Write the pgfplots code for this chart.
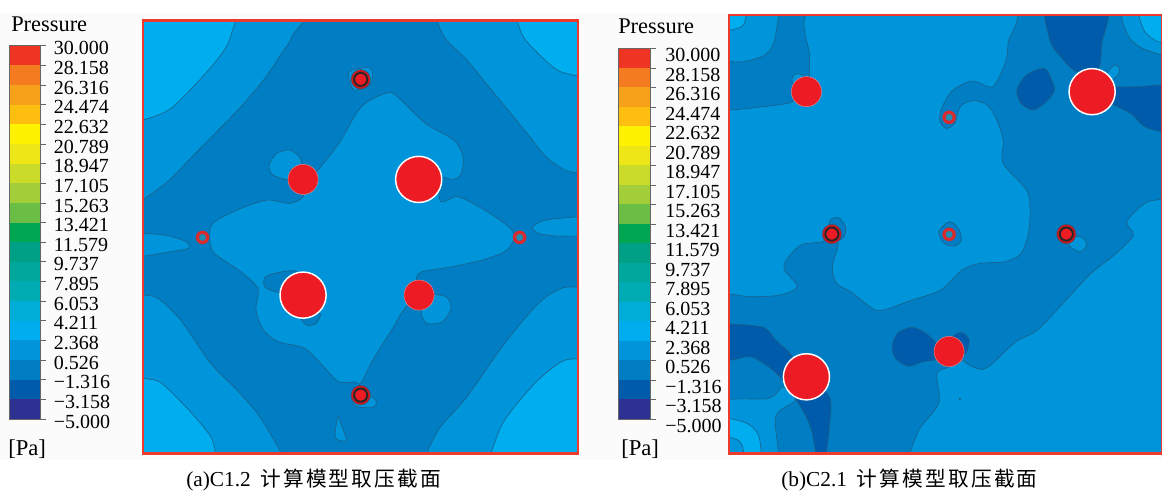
\documentclass[border=0pt]{standalone}
\usepackage{fontspec}
\setmainfont{Liberation Serif}
\newfontfamily\cjk[LetterSpace=11]{Noto Sans CJK SC}
\usepackage{pgfplots}
\pgfplotsset{compat=1.18}
\definecolor{Cl}{HTML}{00ADEF}
\definecolor{Cm}{HTML}{0095DA}
\definecolor{Cd}{HTML}{007DC3}
\definecolor{Cx}{HTML}{005BAA}
\definecolor{lin}{HTML}{1D5F86}
\definecolor{rd}{HTML}{ED1C24}
\definecolor{frm}{HTML}{EE3A2A}
\definecolor{tin}{HTML}{1E8FB4}
\definecolor{tor}{HTML}{D92A2E}
\tikzset{
  ct/.style={fill=#1,draw=lin,line width=.45pt,smooth cycle,tension=.5,mark=none},
}
\pgfplotsset{
  map/.style={scale only axis,anchor=south west,y dir=reverse,axis on top,
    xtick=\empty,ytick=\empty,clip=true,
    axis line style={frm,line width=1.9pt},
    axis background/.style={fill=Cd}},
  bigc/.style={only marks,mark=*,mark size=17.3pt,mark options={fill=rd,draw=white,line width=1.1pt}},
  medc/.style={only marks,mark=*,mark size=11.3pt,mark options={fill=rd,draw=white!50!rd,line width=.3pt}},
  ringo/.style={only marks,mark=*,mark size=7.3pt,mark options={fill=rd!85!black,draw=lin,line width=.3pt}},
  ringi/.style={only marks,mark=*,mark size=4.9pt,mark options={fill=rd,draw=black!85,line width=1.4pt}},
  tinyo/.style={only marks,mark=*,mark size=5pt,mark options={fill=tor,draw=tor,line width=.1pt}},
  tinyi/.style={only marks,mark=*,mark size=2.5pt,mark options={fill=tin,draw=tin,line width=.1pt}},
  cbar/.style={scale only axis,anchor=south west,xmin=0,xmax=1,ymin=-5,ymax=30,
    xtick=\empty,ytick pos=right,
    ytick={-5,-3.158,-1.316,0.526,2.368,4.211,6.053,7.895,9.737,11.579,13.421,15.263,17.105,18.947,20.789,22.632,24.474,26.316,28.158,30},
    yticklabels={−5.000,−3.158,−1.316,0.526,2.368,4.211,6.053,7.895,9.737,11.579,13.421,15.263,17.105,18.947,20.789,22.632,24.474,26.316,28.158,30.000},
    tick align=outside,major tick length=4.2pt,
    tick style={gray!80!black,line width=.5pt},
    axis line style={gray!80!black,line width=.7pt},
    axis on top,
    yticklabel style={font=\fontsize{15}{15}\selectfont,anchor=west,inner sep=0pt,xshift=6pt}},
}
\newcommand\bands{
\addplot[fill={rgb,255:red,238;green,53;blue,36},draw=none] coordinates {(0,28.158)(1,28.158)(1,30)(0,30)} --cycle;
\addplot[fill={rgb,255:red,244;green,123;blue,32},draw=none] coordinates {(0,26.316)(1,26.316)(1,28.158)(0,28.158)} --cycle;
\addplot[fill={rgb,255:red,247;green,161;blue,26},draw=none] coordinates {(0,24.474)(1,24.474)(1,26.316)(0,26.316)} --cycle;
\addplot[fill={rgb,255:red,253;green,190;blue,16},draw=none] coordinates {(0,22.632)(1,22.632)(1,24.474)(0,24.474)} --cycle;
\addplot[fill={rgb,255:red,255;green,242;blue,0},draw=none] coordinates {(0,20.789)(1,20.789)(1,22.632)(0,22.632)} --cycle;
\addplot[fill={rgb,255:red,238;green,230;blue,22},draw=none] coordinates {(0,18.947)(1,18.947)(1,20.789)(0,20.789)} --cycle;
\addplot[fill={rgb,255:red,203;green,219;blue,42},draw=none] coordinates {(0,17.105)(1,17.105)(1,18.947)(0,18.947)} --cycle;
\addplot[fill={rgb,255:red,163;green,205;blue,57},draw=none] coordinates {(0,15.263)(1,15.263)(1,17.105)(0,17.105)} --cycle;
\addplot[fill={rgb,255:red,106;green,189;blue,69},draw=none] coordinates {(0,13.421)(1,13.421)(1,15.263)(0,15.263)} --cycle;
\addplot[fill={rgb,255:red,0;green,166;blue,81},draw=none] coordinates {(0,11.579)(1,11.579)(1,13.421)(0,13.421)} --cycle;
\addplot[fill={rgb,255:red,0;green,160;blue,135},draw=none] coordinates {(0,9.737)(1,9.737)(1,11.579)(0,11.579)} --cycle;
\addplot[fill={rgb,255:red,0;green,167;blue,157},draw=none] coordinates {(0,7.895)(1,7.895)(1,9.737)(0,9.737)} --cycle;
\addplot[fill={rgb,255:red,0;green,172;blue,180},draw=none] coordinates {(0,6.053)(1,6.053)(1,7.895)(0,7.895)} --cycle;
\addplot[fill={rgb,255:red,0;green,173;blue,215},draw=none] coordinates {(0,4.211)(1,4.211)(1,6.053)(0,6.053)} --cycle;
\addplot[fill=Cl,draw=none] coordinates {(0,2.368)(1,2.368)(1,4.211)(0,4.211)} --cycle;
\addplot[fill=Cm,draw=none] coordinates {(0,0.526)(1,0.526)(1,2.368)(0,2.368)} --cycle;
\addplot[fill=Cd,draw=none] coordinates {(0,-1.316)(1,-1.316)(1,0.526)(0,0.526)} --cycle;
\addplot[fill=Cx,draw=none] coordinates {(0,-3.158)(1,-3.158)(1,-1.316)(0,-1.316)} --cycle;
\addplot[fill={rgb,255:red,46;green,49;blue,146},draw=none] coordinates {(0,-5)(1,-5)(1,-3.158)(0,-3.158)} --cycle;
}
\begin{document}
\begin{tikzpicture}
\useasboundingbox (0,0) rectangle (871.5pt,369pt);
% text layer in pixel coordinates
\begin{axis}[scale only axis,at={(0pt,0pt)},anchor=south west,width=871.5pt,height=369pt,
  xmin=0,xmax=1162,ymin=0,ymax=492,y dir=reverse,hide axis,clip=true]
\addplot[fill=black!1.5,draw=none] coordinates {(0,13)(1162,13)(1162,460)(0,460)} --cycle;
\node[anchor=west,inner sep=0pt,font=\fontsize{16.8}{18}\selectfont] at (axis cs:11,24) {Pressure};
\node[anchor=west,inner sep=0pt,font=\fontsize{16.8}{18}\selectfont] at (axis cs:618,26) {Pressure};
\node[anchor=west,inner sep=0pt,font=\fontsize{17}{18}\selectfont] at (axis cs:8,449) {[Pa]};
\node[anchor=west,inner sep=0pt,font=\fontsize{17}{18}\selectfont] at (axis cs:621,449) {[Pa]};
\node[anchor=west,inner sep=0pt,font=\fontsize{16}{18}\selectfont] at (axis cs:186,480) {(a)C1.2\hspace{7pt}{\cjk\fontsize{15.5}{18}\selectfont 计算模型取压截面}};
\node[anchor=west,inner sep=0pt,font=\fontsize{16}{18}\selectfont] at (axis cs:781,480) {(b)C2.1\hspace{7pt}{\cjk\fontsize{15.5}{18}\selectfont 计算模型取压截面}};
\end{axis}
% colour bars
\begin{axis}[cbar,at={(6.75pt,54.75pt)},width=23.25pt,height=280pt,
  yticklabel style={yshift=-2pt}]
\bands
\end{axis}
\begin{axis}[cbar,at={(463.95pt,54.75pt)},width=23.7pt,height=278pt,
  yticklabel style={yshift=-5.2pt,xshift=1pt}]
\bands
\end{axis}
% panel a
\begin{axis}[map,at={(107.25pt,28.875pt)},width=326.25pt,height=324.6pt,
  xmin=380,xmax=1535,ymin=62,ymax=1360]
\addplot[ct=Cm] coordinates {(785,20)(775,110)(745,165)(700,240)(640,320)(580,390)(510,470)(450,540)(385,595)(330,640)(250,300)(300,10)};
\addplot[ct=Cl] coordinates {(612,30)(615,100)(590,160)(530,240)(460,320)(420,345)(385,358)(330,375)(300,200)(400,10)};
\addplot[ct=Cm] coordinates {(1165,30)(1180,110)(1240,180)(1320,290)(1400,400)(1450,470)(1500,510)(1535,518)(1590,525)(1650,300)(1600,10)(1300,0)};
\addplot[ct=Cl] coordinates {(1380,30)(1385,100)(1420,150)(1480,210)(1535,228)(1590,240)(1640,120)(1500,10)};
\addplot[ct=Cm] coordinates {(330,870)(385,885)(420,895)(480,960)(560,1090)(630,1170)(690,1250)(745,1355)(760,1410)(500,1450)(300,1300)};
\addplot[ct=Cl] coordinates {(330,1125)(385,1135)(430,1150)(510,1240)(560,1310)(572,1355)(580,1410)(400,1450)(300,1300)};
\addplot[ct=Cm] coordinates {(1590,850)(1535,860)(1490,865)(1430,910)(1340,1030)(1240,1190)(1170,1280)(1135,1355)(1120,1410)(1400,1450)(1640,1250)};
\addplot[ct=Cl] coordinates {(1590,1065)(1535,1075)(1490,1085)(1420,1150)(1340,1260)(1305,1355)(1290,1410)(1450,1450)(1640,1250)};
\addplot[ct=Cm] coordinates {(1030,278)(1060,295)(1130,370)(1205,420)(1230,470)(1225,520)(1205,538)(1170,535)(1170,605)(1215,590)(1280,625)(1340,670)(1362,695)(1362,725)(1340,755)(1280,780)(1200,800)(1120,815)(1105,840)(1113,885)(1075,925)(1040,990)(990,1080)(958,1150)(945,1145)(900,1145)(860,1100)(810,1045)(740,1025)(700,990)(680,930)(685,865)(640,815)(570,760)(558,720)(565,670)(640,625)(710,600)(770,610)(805,590)(820,540)(845,510)(900,430)(960,320)};
\addplot[ct=Cm] coordinates {(775,540)(725,525)(715,495)(735,460)(770,450)(795,470)(800,495)(770,510)};
\addplot[ct=Cm] coordinates {(1145,885)(1185,890)(1198,925)(1175,965)(1135,970)(1120,945)(1125,915)};
\addplot[ct=Cd] coordinates {(750,878)(705,862)(705,830)(750,815)(790,815)(790,860)};
\addplot[ct=Cd] coordinates {(800,950)(850,940)(840,970)(815,975)};
\addplot[ct=Cm] coordinates {(385,700)(440,705)(495,725)(500,745)(450,755)(385,768)(320,780)(320,690)};
\addplot[ct=Cm] coordinates {(1600,645)(1535,650)(1450,660)(1415,680)(1430,700)(1480,708)(1535,708)(1600,712)};
\addplot[ct=Cm] coordinates {(898,1250)(890,1300)(895,1318)(920,1320)(905,1270)};
\addplot[ct=Cm] coordinates {(925,225)(935,210)(985,205)(985,250)(940,270)};
\addplot[ct=Cm] coordinates {(935,1190)(985,1190)(1000,1205)(990,1222)(945,1218)};
\addplot[bigc] coordinates {(1112,538)(805,885)};
\addplot[medc] coordinates {(805,538)(1113,885)};
\addplot[ringo] coordinates {(958,238)(958,1185)};
\addplot[ringi] coordinates {(958,238)(958,1185)};
\addplot[tinyo] coordinates {(538,712)(1380,712)};
\addplot[tinyi] coordinates {(538,712)(1380,712)};
\end{axis}
% panel b
\begin{axis}[map,at={(546.75pt,28.875pt)},width=324.75pt,height=328.9pt,
  xmin=360,xmax=1568,ymin=45,ymax=1360]
% mid regions
\addplot[ct=Cm] coordinates {(610,15)(1130,15)(1138,130)(1130,190)(1095,260)(1040,243)(985,270)(955,320)(948,360)(965,385)(990,370)(1005,320)(1040,302)(1080,315)(1105,355)(1125,420)(1125,490)(1190,570)(1200,630)(1195,700)(1175,760)(1130,785)(1060,790)(1010,810)(950,870)(870,900)(790,930)(760,925)(700,875)(660,850)(648,800)(665,730)(645,705)(620,725)(560,735)(520,780)(515,810)(550,860)(500,885)(420,890)(365,882)(310,880)(310,330)(365,330)(440,322)(530,308)(575,275)(585,235)(585,170)};
\addplot[ct=Cm] coordinates {(310,10)(485,10)(487,120)(460,165)(400,185)(365,185)(310,185)};
\addplot[ct=Cl] coordinates {(340,20)(405,20)(400,75)(365,90)(330,95)};
\addplot[ct=Cm] coordinates {(1625,598)(1568,598)(1520,610)(1470,665)(1488,705)(1440,760)(1370,820)(1300,900)(1220,990)(1160,1025)(1095,1090)(1065,1108)(1030,1095)(1000,1075)(975,1100)(940,1120)(945,1210)(885,1300)(885,1410)(1200,1440)(1640,1400)};
\addplot[ct=Cm] coordinates {(1465,20)(1470,100)(1505,140)(1568,165)(1640,180)(1640,10)};
\addplot[ct=Cl] coordinates {(1510,20)(1515,85)(1540,115)(1568,128)(1640,135)(1640,10)};
\addplot[ct=Cm] coordinates {(320,1215)(470,1195)(510,1160)(545,1200)(490,1250)(487,1410)(300,1420)};
\addplot[ct=Cl] coordinates {(320,1265)(400,1265)(440,1300)(450,1360)(450,1420)(300,1420)};
\addplot[ct=Cm] coordinates {(340,1315)(385,1320)(400,1350)(395,1400)(330,1400)};
% darker regions
\addplot[ct=Cx] coordinates {(1250,15)(1255,120)(1285,170)(1330,215)(1390,205)(1400,130)(1413,15)};
\addplot[ct=Cx] coordinates {(1240,205)(1260,240)(1268,270)(1250,300)(1210,330)(1175,310)(1163,270)(1190,225)};
\addplot[ct=Cx] coordinates {(1420,265)(1500,260)(1568,255)(1640,255)(1640,395)(1530,385)(1480,340)(1420,305)};
\addplot[ct=Cx] coordinates {(815,1040)(830,1000)(870,982)(910,1000)(945,1040)(945,1075)(900,1085)(860,1098)(825,1075)};
\addplot[ct=Cx] coordinates {(985,1010)(1010,997)(1030,1020)(1020,1060)(1000,1050)};
\addplot[ct=Cx] coordinates {(310,980)(450,980)(490,1020)(530,1060)(575,1130)(640,1190)(640,1280)(625,1400)(610,1400)(590,1290)(565,1230)(510,1140)(470,1100)(420,1070)(365,1080)(310,1080)};
% lobes
\addplot[ct=Cm] coordinates {(1420,210)(1440,195)(1450,215)(1430,240)(1415,235)};
\addplot[ct=Cm] coordinates {(535,240)(545,222)(565,225)(575,240)(545,255)};
\addplot[ct=Cd] coordinates {(945,695)(975,665)(1000,685)(1008,720)(990,738)(960,730)};
\addplot[ct=Cd] coordinates {(640,665)(665,652)(685,680)(680,712)(650,720)};
\addplot[ct=Cm] coordinates {(1315,710)(1345,712)(1358,735)(1340,755)(1310,738)};
\addplot[bigc] coordinates {(1373,275)(576,1130)};
\addplot[medc] coordinates {(576,275)(974,1054)};
\addplot[ringo] coordinates {(647,702)(1301,702)};
\addplot[ringi] coordinates {(647,702)(1301,702)};
\addplot[tinyo] coordinates {(974,352)(974,703)};
\addplot[tinyi] coordinates {(974,352)(974,703)};
\addplot[only marks,mark=*,mark size=.6pt,mark options={fill=lin,draw=lin}] coordinates {(1004,1197)};
\end{axis}
\end{tikzpicture}
\end{document}
